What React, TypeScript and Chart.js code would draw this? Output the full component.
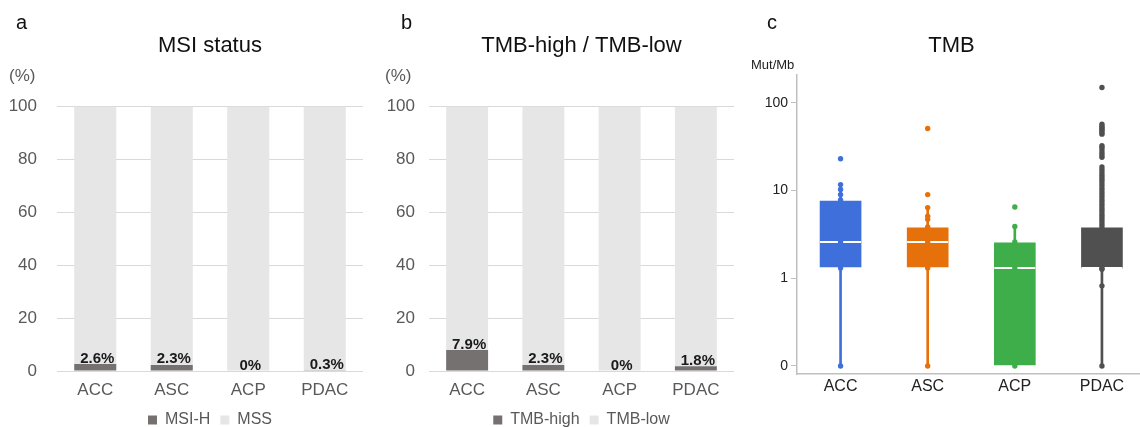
import React, { useEffect, useRef } from 'react';
import { Chart, registerables } from 'chart.js';

Chart.register(...registerables);

const FONT = "'Liberation Sans', Arial, Helvetica, sans-serif";

// ---------- data ----------
const CATEGORIES = ['ACC', 'ASC', 'ACP', 'PDAC'];
const PCT_TICKS = [0, 20, 40, 60, 80, 100];

const MSI_H = [2.6, 2.3, 0, 0.3];
const MSS = [97.4, 97.7, 100, 99.7];

const TMB_HIGH = [7.9, 2.3, 0, 1.8];
const TMB_LOW = [92.1, 97.7, 100, 98.2];

const TMB_TICKS = [0, 1, 10, 100];
const TMB_WHISKER_LOW = [0, 0, 0, 0];
const TMB_Q1 = [1.31, 1.31, 0, 1.27];
const TMB_MEDIAN = [2.6, 2.6, 1.31, 1.31];
const TMB_Q3 = [7.8, 3.85, 2.6, 3.85];
const TMB_WHISKER_HIGH = [11.7, 6.4, 3.9, 18.6];

const ACC_POINTS = [0, 1.31, 2.6, 7.8, 9.0, 10.3, 11.7, 23.1];
const ASC_POINTS = [0, 1.31, 2.6, 3.85, 4.7, 5.1, 6.4, 9.0, 51];
const ACP_POINTS = [0, 1.31, 2.6, 3.9, 6.5];
const PDAC_POINTS = [
  0, 0.82, 1.27, 1.31, 3.85, 4.1, 4.4, 4.7, 5.0, 5.3, 5.7, 6.1, 6.5, 7.0, 7.5, 8.0,
  8.6, 9.2, 9.9, 10.6, 11.4, 12.2, 13.1, 14.0, 15.0, 16.1, 17.3, 18.6, 24, 25.5, 27,
  29, 31, 32.5, 44, 46, 48, 50, 52, 54, 57, 150,
];
const TMB_POINTS = [ACC_POINTS, ASC_POINTS, ACP_POINTS, PDAC_POINTS];

const TMB_COLORS = ['#3F6FDB', '#E6700A', '#3DAE49', '#505050'];

// log axis: the "0" tick sits one decade below 1
const ZERO_POS = 0.1;
const yv = (v: number) => (v <= 0 ? ZERO_POS : v);

// ---------- plugins ----------
const valueLabelPlugin = {
  id: 'valueLabels',
  afterDatasetsDraw(chart: any) {
    const meta = chart.getDatasetMeta(0);
    const ds = chart.data.datasets[0];
    const ctx = chart.ctx;
    ctx.save();
    ctx.font = `bold 15px ${FONT}`;
    ctx.fillStyle = '#1a1a1a';
    ctx.textAlign = 'center';
    ctx.textBaseline = 'alphabetic';
    meta.data.forEach((el: any, i: number) => {
      const v = ds.data[i];
      ctx.fillText(`${v}%`, el.x + 2, el.y - 1.5);
    });
    ctx.restore();
  },
};

function stackedConfig(
  title: string,
  lowLabel: string,
  highLabel: string,
  low: number[],
  high: number[],
  padRight: number,
  yWidth: number,
  yPad: number
): any {
  return {
    type: 'bar',
    data: {
      labels: CATEGORIES,
      datasets: [
        {
          label: lowLabel,
          data: low,
          backgroundColor: '#767171',
          barPercentage: 0.55,
          categoryPercentage: 1,
        },
        {
          label: highLabel,
          data: high,
          backgroundColor: '#E7E6E6',
          barPercentage: 0.55,
          categoryPercentage: 1,
        },
      ],
    },
    options: {
      animation: false,
      responsive: false,
      layout: { padding: { left: 0, right: padRight, top: 0, bottom: 2 } },
      plugins: {
        title: {
          display: true,
          text: title,
          fullSize: false,
          color: '#111',
          font: { family: FONT, size: 22, weight: 'normal' },
          padding: { top: 33, bottom: 47 },
        },
        legend: {
          position: 'bottom',
          fullSize: false,
          labels: {
            boxWidth: 9,
            boxHeight: 9,
            padding: 10,
            color: '#595959',
            font: { family: FONT, size: 16 },
          },
        },
        tooltip: { enabled: false },
      },
      scales: {
        x: {
          stacked: true,
          grid: { display: false, drawTicks: false },
          border: { display: false },
          ticks: { color: '#595959', font: { family: FONT, size: 17 }, padding: 9 },
          afterFit(s: any) {
            s.height = 31;
          },
        },
        y: {
          stacked: true,
          min: 0,
          max: 100,
          afterBuildTicks(s: any) {
            s.ticks = PCT_TICKS.map((v) => ({ value: v }));
          },
          grid: { color: '#D9D9D9', drawTicks: false },
          border: { display: false },
          ticks: { color: '#595959', font: { family: FONT, size: 17 }, padding: yPad },
          afterFit(s: any) {
            s.width = yWidth;
          },
        },
      },
    },
    plugins: [valueLabelPlugin],
  };
}

function tmbConfig(): any {
  const datasets: any[] = [];
  datasets.push({
    type: 'bar',
    label: 'whisker',
    data: CATEGORIES.map((_, i) => ({ x: i, y: [yv(TMB_WHISKER_LOW[i]), yv(TMB_WHISKER_HIGH[i])] })),
    backgroundColor: TMB_COLORS,
    barThickness: 2,
    grouped: false,
    order: 4,
  });
  datasets.push({
    type: 'bar',
    label: 'box',
    data: CATEGORIES.map((_, i) => ({ x: i, y: [yv(TMB_Q1[i]), yv(TMB_Q3[i])] })),
    backgroundColor: TMB_COLORS,
    borderColor: 'rgba(255,255,255,0.35)',
    borderWidth: 1,
    borderSkipped: false,
    barThickness: 43,
    grouped: false,
    order: 3,
  });
  datasets.push({
    type: 'scatter',
    label: 'median',
    data: CATEGORIES.map((_, i) => ({ x: i, y: yv(TMB_MEDIAN[i]) })),
    pointStyle: 'line',
    radius: 20.5,
    borderColor: '#FFFFFF',
    borderWidth: 2,
    order: 2,
  });
  TMB_POINTS.forEach((pts, i) => {
    datasets.push({
      type: 'scatter',
      label: CATEGORIES[i],
      data: pts.map((v) => ({ x: i, y: yv(v) })),
      radius: 2.7,
      backgroundColor: TMB_COLORS[i],
      borderWidth: 0,
      order: 1,
    });
  });

  return {
    type: 'bar',
    data: { datasets },
    options: {
      animation: false,
      responsive: false,
      layout: { padding: { left: 0, right: 0, top: 0, bottom: 0 } },
      plugins: {
        title: {
          display: true,
          text: 'TMB',
          fullSize: true,
          color: '#111',
          font: { family: FONT, size: 22, weight: 'normal' },
          padding: { top: 33, bottom: 15.6 },
        },
        legend: { display: false },
        tooltip: { enabled: false },
      },
      scales: {
        x: {
          type: 'linear',
          offset: false,
          min: -0.5,
          max: 3.4425,
          afterBuildTicks(s: any) {
            s.ticks = CATEGORIES.map((_, i) => ({ value: i }));
          },
          grid: { display: false, offset: false, drawTicks: false },
          border: { display: true, color: '#BFBFBF', width: 1.5 },
          ticks: {
            autoSkip: false,
            color: '#222',
            font: { family: FONT, size: 16 },
            padding: 3,
            callback: (v: number) => CATEGORIES[v] ?? '',
          },
          afterFit(s: any) {
            s.height = 53;
          },
        },
        y: {
          type: 'logarithmic',
          min: 0.081,
          max: 208,
          afterBuildTicks(s: any) {
            s.ticks = TMB_TICKS.map((t) => ({ value: yv(t) }));
          },
          grid: {
            display: true,
            drawOnChartArea: false,
            drawTicks: true,
            tickLength: 6,
            color: '#BFBFBF',
          },
          border: { display: true, color: '#BFBFBF', width: 1.5 },
          ticks: {
            autoSkip: false,
            color: '#222',
            font: { family: FONT, size: 14 },
            padding: 3,
            callback: (v: number) => {
              const idx = TMB_TICKS.findIndex((t) => Math.abs(yv(t) - v) < 1e-9);
              return idx >= 0 ? String(TMB_TICKS[idx]) : '';
            },
          },
          afterFit(s: any) {
            s.width = 57;
          },
        },
      },
    },
  };
}

const labelStyle = (left: number, top: number, size: number): React.CSSProperties => ({
  position: 'absolute',
  left,
  top,
  fontSize: size,
  lineHeight: `${size}px`,
  color: '#111',
  fontFamily: FONT,
  whiteSpace: 'nowrap',
});

export default function App() {
  const aRef = useRef<HTMLCanvasElement>(null);
  const bRef = useRef<HTMLCanvasElement>(null);
  const cRef = useRef<HTMLCanvasElement>(null);

  useEffect(() => {
    const charts: Chart[] = [];
    if (aRef.current)
      charts.push(
        new Chart(aRef.current, stackedConfig('MSI status', 'MSI-H', 'MSS', MSI_H, MSS, 17, 57, 20))
      );
    if (bRef.current)
      charts.push(
        new Chart(
          bRef.current,
          stackedConfig('TMB-high / TMB-low', 'TMB-high', 'TMB-low', TMB_HIGH, TMB_LOW, 26, 49, 14)
        )
      );
    if (cRef.current) charts.push(new Chart(cRef.current, tmbConfig()));
    return () => charts.forEach((c) => c.destroy());
  }, []);

  return (
    <div
      style={{
        position: 'absolute',
        left: 0,
        top: 0,
        width: 1140,
        height: 427,
        overflow: 'hidden',
        background: '#fff',
        fontFamily: FONT,
      }}
    >
      <canvas ref={aRef} width={380} height={440} style={{ position: 'absolute', left: 0, top: 0 }} />
      <canvas ref={bRef} width={380} height={440} style={{ position: 'absolute', left: 380, top: 0 }} />
      <canvas ref={cRef} width={423} height={427} style={{ position: 'absolute', left: 740, top: 0 }} />
      <div style={labelStyle(16, 12, 20)}>a</div>
      <div style={labelStyle(401, 12, 20)}>b</div>
      <div style={labelStyle(767, 12, 20)}>c</div>
      <div style={{ ...labelStyle(9, 67, 17), color: '#595959' }}>(%)</div>
      <div style={{ ...labelStyle(385, 67, 17), color: '#595959' }}>(%)</div>
      <div style={{ ...labelStyle(751, 58, 13), color: '#222' }}>Mut/Mb</div>
    </div>
  );
}
